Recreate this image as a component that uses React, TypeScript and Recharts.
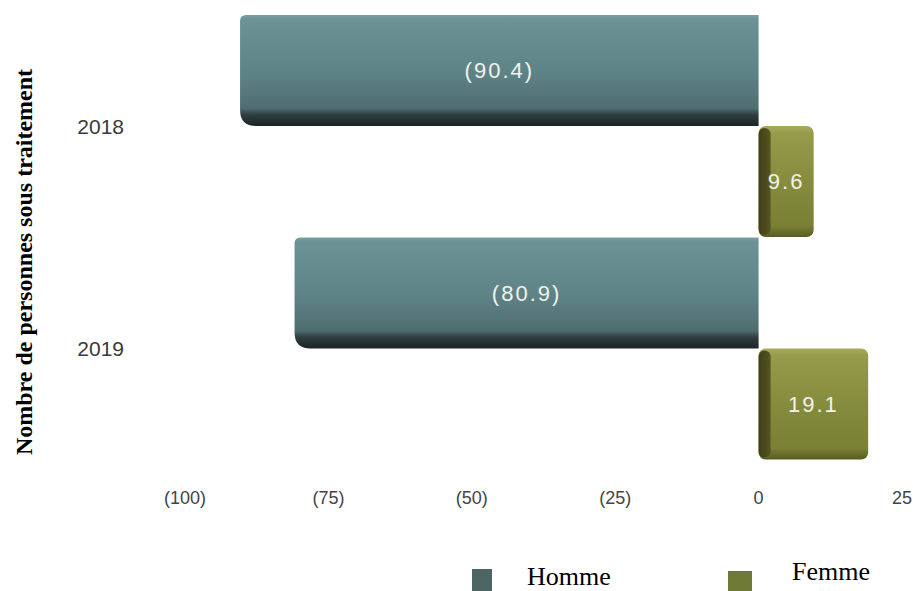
import React from 'react';
import { BarChart, Bar, XAxis, YAxis, LabelList } from 'recharts';

const years = ['2018', '2019'];
const hommeValues = [-90.4, -80.9];
const femmeValues = [9.6, 19.1];
const xTicks = [-100, -75, -50, -25, 0, 25];

const data = years.map((y, i) => ({ year: y, homme: hommeValues[i], femme: femmeValues[i] }));

const fmt = (v: number) => (v < 0 ? `(${Math.abs(v)})` : `${v}`);

const HommeShape = (props: any) => {
  const { x, y, width, height } = props;
  const x0 = Math.min(x, x + width);
  const x1 = Math.max(x, x + width);
  const y0 = Math.min(y, y + height);
  const y1 = Math.max(y, y + height);
  const rt = 6;
  const rb = 16;
  const d = `M ${x0 + rt} ${y0} L ${x1} ${y0} L ${x1} ${y1} L ${x0 + rb} ${y1} Q ${x0} ${y1} ${x0} ${y1 - rb} L ${x0} ${y0 + rt} Q ${x0} ${y0} ${x0 + rt} ${y0} Z`;
  return <path d={d} fill="url(#hommeGrad)" />;
};

const FemmeShape = (props: any) => {
  const { x, y, width, height } = props;
  const x0 = Math.min(x, x + width);
  const x1 = Math.max(x, x + width);
  const y0 = Math.min(y, y + height);
  const y1 = Math.max(y, y + height);
  const side = 12;
  return (
    <g>
      <rect x={x0} y={y0} width={x1 - x0} height={y1 - y0} rx={7} ry={7} fill="url(#femmeGrad)" />
      <rect x={x0} y={y0 + 2} width={side} height={y1 - y0 - 4} rx={6} ry={6} fill="url(#femmeSide)" />
    </g>
  );
};

export default function App() {
  return (
    <div style={{ position: 'fixed', left: 0, top: 0, width: 913, height: 591, background: '#ffffff', overflow: 'hidden' }}>
      <BarChart
        width={913}
        height={591}
        data={data}
        layout="vertical"
        margin={{ top: 15, right: 11, bottom: 71, left: 0 }}
        barCategoryGap={0}
        barGap={0}
      >
        <defs>
          <linearGradient id="hommeGrad" x1="0" y1="0" x2="0" y2="1">
            <stop offset="0%" stopColor="#7a9ea1" />
            <stop offset="4%" stopColor="#6c9296" />
            <stop offset="50%" stopColor="#5f8488" />
            <stop offset="84%" stopColor="#4f6d71" />
            <stop offset="90%" stopColor="#2f3d3e" />
            <stop offset="100%" stopColor="#1c2424" />
          </linearGradient>
          <linearGradient id="femmeGrad" x1="0" y1="0" x2="0" y2="1">
            <stop offset="0%" stopColor="#a6ac5e" />
            <stop offset="7%" stopColor="#959b4a" />
            <stop offset="50%" stopColor="#868c3d" />
            <stop offset="90%" stopColor="#7a8034" />
            <stop offset="100%" stopColor="#575b22" />
          </linearGradient>
          <linearGradient id="femmeSide" x1="0" y1="0" x2="1" y2="0">
            <stop offset="0%" stopColor="#3e3e18" />
            <stop offset="100%" stopColor="#55561f" />
          </linearGradient>
        </defs>
        <XAxis
          type="number"
          domain={[-100, 25]}
          ticks={xTicks}
          tickFormatter={fmt}
          axisLine={false}
          tickLine={false}
          tickSize={0}
          tickMargin={31}
          height={60}
          tick={{ fill: '#444444', fontSize: 18, fontFamily: 'Liberation Sans, Arial, sans-serif' }}
        />
        <YAxis
          type="category"
          dataKey="year"
          width={185}
          axisLine={false}
          tickLine={false}
          tickSize={0}
          tickMargin={61}
          tick={{ fill: '#3a3a3a', fontSize: 21, fontFamily: 'Liberation Sans, Arial, sans-serif' }}
        />
        <Bar dataKey="homme" name="Homme" fill="#5f8488" shape={HommeShape} isAnimationActive={false}>
          <LabelList
            dataKey="homme"
            position="center"
            formatter={fmt}
            fill="#f2f2ea"
            style={{ fontSize: 22, letterSpacing: 2, fontFamily: 'Liberation Sans, Arial, sans-serif' }}
          />
        </Bar>
        <Bar dataKey="femme" name="Femme" fill="#868c3d" shape={FemmeShape} isAnimationActive={false}>
          <LabelList
            dataKey="femme"
            position="center"
            formatter={fmt}
            fill="#f2f2ea"
            style={{ fontSize: 22, letterSpacing: 2, fontFamily: 'Liberation Sans, Arial, sans-serif' }}
          />
        </Bar>
      </BarChart>

      <div
        style={{
          position: 'absolute',
          left: 24,
          top: 262,
          transform: 'translate(-50%, -50%) rotate(-90deg)',
          whiteSpace: 'nowrap',
          fontFamily: 'Liberation Serif, Times New Roman, serif',
          fontWeight: 'bold',
          fontSize: 24,
          color: '#000',
          lineHeight: 1,
        }}
      >
        Nombre de personnes sous traitement
      </div>

      <div style={{ position: 'absolute', left: 472, top: 569, width: 20, height: 22, background: '#4d6563' }} />
      <div
        style={{
          position: 'absolute',
          left: 527,
          top: 564,
          fontFamily: 'Liberation Serif, Times New Roman, serif',
          fontSize: 26,
          lineHeight: 1,
          color: '#000',
        }}
      >
        Homme
      </div>
      <div style={{ position: 'absolute', left: 728, top: 571, width: 24, height: 20, background: '#6e7a35' }} />
      <div
        style={{
          position: 'absolute',
          left: 792,
          top: 559,
          fontFamily: 'Liberation Serif, Times New Roman, serif',
          fontSize: 26,
          lineHeight: 1,
          color: '#000',
        }}
      >
        Femme
      </div>
    </div>
  );
}
